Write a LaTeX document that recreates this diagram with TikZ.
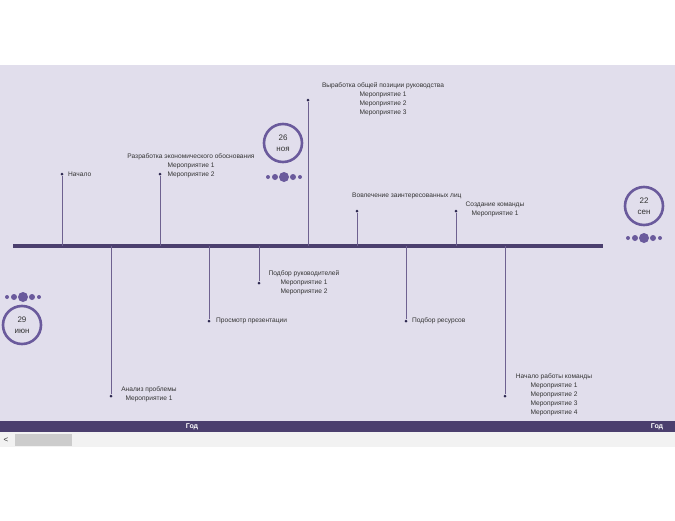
\documentclass[tikz,border=0pt]{standalone}
\usepackage{fontspec}
\setmainfont{Liberation Sans}
\begin{document}
\begin{tikzpicture}[x=1pt,y=-1pt,
  every node/.style={font=\fontsize{6.6}{9}\selectfont, text=black!80, inner sep=0pt},
  stem/.style={draw=linec, line width=0.8pt},
  pin/.style={circle, fill=dotc, minimum size=3pt, inner sep=0pt},
  datec/.style={circle, draw=ringc, line width=2.6pt, fill=bgc, minimum size=38pt, align=center, font=\fontsize{8}{11}\selectfont},
  sdot/.style={circle, fill=ringc, inner sep=0pt},
  lbl/.style={align=center}]
\definecolor{bgc}{HTML}{E1DEEC}
\definecolor{barc}{HTML}{4B3F6E}
\definecolor{linec}{HTML}{6E6190}
\definecolor{dotc}{HTML}{2D2850}
\definecolor{ringc}{HTML}{6A5A9C}
\useasboundingbox (0,0) rectangle (675,520);
\fill[white] (0,0) rectangle (675,520);
\fill[bgc] (0,65) rectangle (675,421);
\fill[barc] (0,421) rectangle (675,432);
\node[text=white, font=\fontsize{7}{8}\bfseries\selectfont] (g1) at (192,427) {Год};
\node[text=white, font=\fontsize{7}{8}\bfseries\selectfont] (g2) at (657,427) {Год};
\fill[black!5] (0,432) rectangle (675,447);
\fill[black!20] (15,434) rectangle (72,446);
\node[font=\fontsize{8}{9}\selectfont] (lt) at (6,440) {<};
% main line
\coordinate (L) at (13,246); \coordinate (R) at (603,246);
\draw[barc, line width=3.5pt] (L) -- (R);
% up stems
\foreach \n/\x/\y in {a/62/174,b/160/174,c/308/100,d/357/211,e/456/211,
                      f/111/396,g/209/321,h/259/283,i/406/321,j/505/396}{
  \coordinate (\n0) at (\x,246);
  \node[pin] (\n) at (\x,\y) {};
  \draw[stem] (\n0) -- (\n);
}
\node[anchor=west] (ta) at (68,174) {Начало};
\node[lbl, anchor=south] (tb) at (191,178) {Разработка экономического обоснования\\Мероприятие 1\\Мероприятие 2};
\node[lbl, anchor=north] (tc) at (383,82) {Выработка общей позиции руководства\\Мероприятие 1\\Мероприятие 2\\Мероприятие 3};
\node[anchor=west] (td) at (352,196) {Вовлечение заинтересованных лиц};
\node[lbl, anchor=north] (te) at (495,202) {Создание команды\\Мероприятие 1};
\node[lbl, anchor=north] (tf) at (149,386) {Анализ проблемы\\Мероприятие 1};
\node[anchor=west] (tg) at (216,321) {Просмотр презентации};
\node[lbl, anchor=north] (th) at (304,270) {Подбор руководителей\\Мероприятие 1\\Мероприятие 2};
\node[anchor=west] (ti) at (412,321) {Подбор ресурсов};
\node[lbl, anchor=north] (tj) at (554,373) {Начало работы команды\\Мероприятие 1\\Мероприятие 2\\Мероприятие 3\\Мероприятие 4};
% date circles
\node[datec] (d1) at (283,143) {26\\ноя};
\node[datec] (d2) at (644,206) {22\\сен};
\node[datec] (d3) at (22,325) {29\\июн};
\foreach \n/\cx/\cy in {s1/284/177,s2/644/238,s3/23/297}{
  \node[sdot, minimum size=4pt] at (\cx-16,\cy) {};
  \node[sdot, minimum size=6pt] at (\cx-9,\cy) {};
  \node[sdot, minimum size=10pt] (\n) at (\cx,\cy) {};
  \node[sdot, minimum size=6pt] at (\cx+9,\cy) {};
  \node[sdot, minimum size=4pt] at (\cx+16,\cy) {};
}
\end{tikzpicture}
\end{document}
